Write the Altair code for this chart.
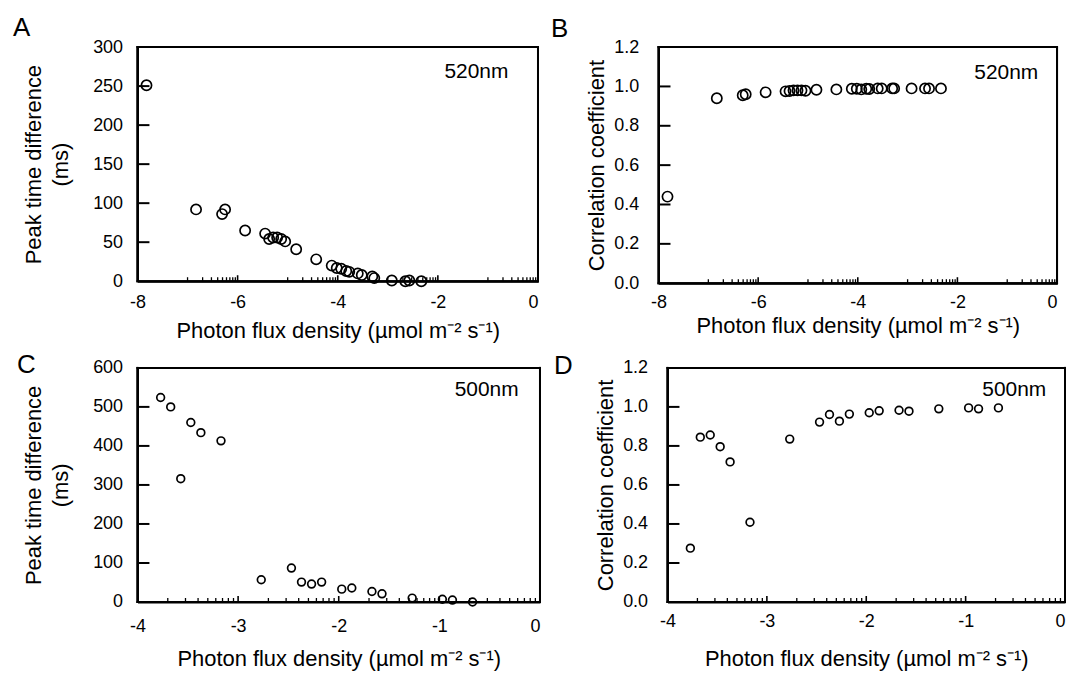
import math
import altair as alt
import pandas as pd

FONT = "Liberation Sans"
XTITLE = "Photon flux density (µmol m⁻² s⁻¹)"

# ---- 520 nm (panels A and B); x = log10 photon flux density ----
x_520 = [-7.82, -6.83, -6.31, -6.25, -5.85, -5.45, -5.37, -5.29, -5.21, -5.13,
         -5.05, -4.83, -4.43, -4.12, -4.02, -3.93, -3.83, -3.77, -3.60, -3.52,
         -3.31, -3.27, -2.92, -2.65, -2.57, -2.33]
peak_520 = [251, 92, 86, 92, 65, 61, 54, 56, 56, 54,
            51, 41, 28, 20, 17, 16, 13, 12, 10, 8,
            6, 4, 1, 0, 1, 0]
corr_520 = [0.44, 0.94, 0.955, 0.96, 0.97, 0.975, 0.977, 0.98, 0.98, 0.98,
            0.978, 0.983, 0.985, 0.988, 0.988, 0.985, 0.988, 0.987, 0.99, 0.99,
            0.99, 0.99, 0.99, 0.99, 0.99, 0.99]

# ---- 500 nm (panels C and D) ----
x_500 = [-3.77, -3.67, -3.57, -3.47, -3.37, -3.17, -2.77, -2.47, -2.37, -2.27,
         -2.17, -1.97, -1.87, -1.67, -1.57, -1.27, -0.97, -0.87, -0.67]
peak_500 = [524, 500, 316, 460, 434, 413, 57, 87, 51, 46,
            51, 33, 36, 27, 21, 10, 7, 5, 0]
corr_500 = [0.276, 0.845, 0.856, 0.796, 0.718, 0.409, 0.835, 0.922, 0.961, 0.927,
            0.963, 0.970, 0.980, 0.983, 0.978, 0.990, 0.995, 0.990, 0.995]

# axis tick values
xmajor_ab = [-8, -6, -4, -2, 0]
xmajor_cd = [-4, -3, -2, -1, 0]
yvals_a = [0, 50, 100, 150, 200, 250, 300]
yvals_c = [0, 100, 200, 300, 400, 500, 600]
yvals_r = [0.0, 0.2, 0.4, 0.6, 0.8, 1.0, 1.2]


def minor_ticks(starts, ks, shift):
    return [s + shift + math.log10(k) for s in starts for k in ks]


xminor_ab = minor_ticks([-8, -6, -4, -2], range(1, 10), 1)
xminor_cd = minor_ticks([-4, -3, -2, -1], range(2, 10), 0)


def panel(x, y, xmin, xmajor, xminor, yvals, yfmt, ytitle, note, note_xy,
          letter, letter_xy, w, h, size, ylab_pad, ytitle_pad, xlab_pad, xtitle_pad):
    xs = alt.Scale(domain=[xmin, 0], nice=False, zero=False)
    ys = alt.Scale(domain=[yvals[0], yvals[-1]], nice=False)
    xaxis = alt.Axis(values=xmajor, labelExpr="toString(datum.value)",
                     labelAlign={"condition": {"test": "datum.value == 0", "value": "right"},
                                 "value": "center"},
                     ticks=False, domain=True, domainColor="black", domainWidth=2,
                     grid=False, labelPadding=xlab_pad,
                     title=XTITLE, titlePadding=xtitle_pad)
    yaxis = alt.Axis(values=yvals, format=yfmt, ticks=False, domain=True,
                     domainColor="black", domainWidth=2, grid=False,
                     labelPadding=ylab_pad, title=ytitle, titlePadding=ytitle_pad,
                     titleLineHeight=27)

    def X(f):
        return alt.X(f, type="quantitative", scale=xs, axis=xaxis)

    def Y(f):
        return alt.Y(f, type="quantitative", scale=ys, axis=yaxis)

    layers = []
    layers.append(alt.Chart(pd.DataFrame({"x": x, "y": y})).mark_point(
        shape="circle", filled=False, color="black", strokeWidth=1.7, size=size, opacity=1
    ).encode(x=X("x"), y=Y("y")))

    # inward y ticks (12 px long)
    layers.append(alt.Chart(pd.DataFrame({"y": yvals[1:-1]})).mark_tick(
        orient="horizontal", thickness=2, size=12, color="black", opacity=1
    ).encode(y=Y("y"), x=alt.value(6)))
    # inward x ticks: major 6 px, minor 4 px
    layers.append(alt.Chart(pd.DataFrame({"x": xmajor[1:-1]})).mark_tick(
        orient="vertical", thickness=1.6, size=6, color="black", opacity=1
    ).encode(x=X("x"), y=alt.value(h - 3)))
    layers.append(alt.Chart(pd.DataFrame({"x": xminor})).mark_tick(
        orient="vertical", thickness=1.3, size=4, color="black", opacity=1
    ).encode(x=X("x"), y=alt.value(h - 2)))

    # plot frame drawn as thin filled bars
    frame_df = pd.DataFrame({"t": [letter]})
    for x1, x2, y1, y2 in [(-1, w + 1, -1, 1), (-1, w + 1, h - 1, h + 1),
                           (-1, 1, -1, h + 1), (w - 1, w + 1, -1, h + 1)]:
        layers.append(alt.Chart(frame_df).mark_rect(color="black", opacity=1).encode(
            x=alt.value(x1), x2=alt.value(x2), y=alt.value(y1), y2=alt.value(y2)))

    layers.append(alt.Chart(pd.DataFrame({"x": [note_xy[0]], "y": [note_xy[1]], "t": [note]})).mark_text(
        font=FONT, fontSize=21, align="center", baseline="middle", color="black"
    ).encode(x=X("x"), y=Y("y"), text="t:N"))
    layers.append(alt.Chart(pd.DataFrame({"t": [letter]})).mark_text(
        font=FONT, fontSize=26, align="left", baseline="alphabetic", color="black"
    ).encode(x=alt.value(letter_xy[0]), y=alt.value(letter_xy[1]), text="t:N"))
    return alt.layer(*layers).properties(width=w, height=h)


A = panel(x_520, peak_520, -8, xmajor_ab, xminor_ab, yvals_a, "d",
          ["Peak time difference", "(ms)"], "520nm", (-1.23, 268), "A", (-125, -11),
          402, 235, 105, 15, 20, 12, 10)
B = panel(x_520, corr_520, -8, xmajor_ab, xminor_ab, yvals_r, ".1f",
          "Correlation coefficient", "520nm", (-1.02, 1.07), "B", (-108, -10),
          400, 237, 105, 20, 5, 10, 4)
C = panel(x_500, peak_500, -4, xmajor_cd, xminor_cd, yvals_c, "d",
          ["Peak time difference", "(ms)"], "500nm", (-0.53, 543), "C", (-121, 5),
          404, 235, 60, 15, 20, 16, 13)
D = panel(x_500, corr_500, -4, xmajor_cd, xminor_cd, yvals_r, ".1f",
          "Correlation coefficient", "500nm", (-0.51, 1.086), "D", (-114, 6),
          399, 235, 60, 20, 5, 11, 18)

row1 = alt.hconcat(A, B, spacing=121, bounds="flush")
row2 = alt.hconcat(C, D, spacing=128, bounds="flush")
chart = alt.vconcat(row1, row2, spacing=8).properties(
    padding={"left": 12, "top": 13, "right": 0, "bottom": 0},
    background="white",
).configure_view(stroke="black", strokeWidth=2).configure_axis(
    labelFont=FONT, titleFont=FONT, labelFontSize=18, titleFontSize=22,
    labelColor="black", titleColor="black", titleFontWeight="normal",
)

chart.save("out.html", embed_options={"renderer": "svg", "actions": False})
